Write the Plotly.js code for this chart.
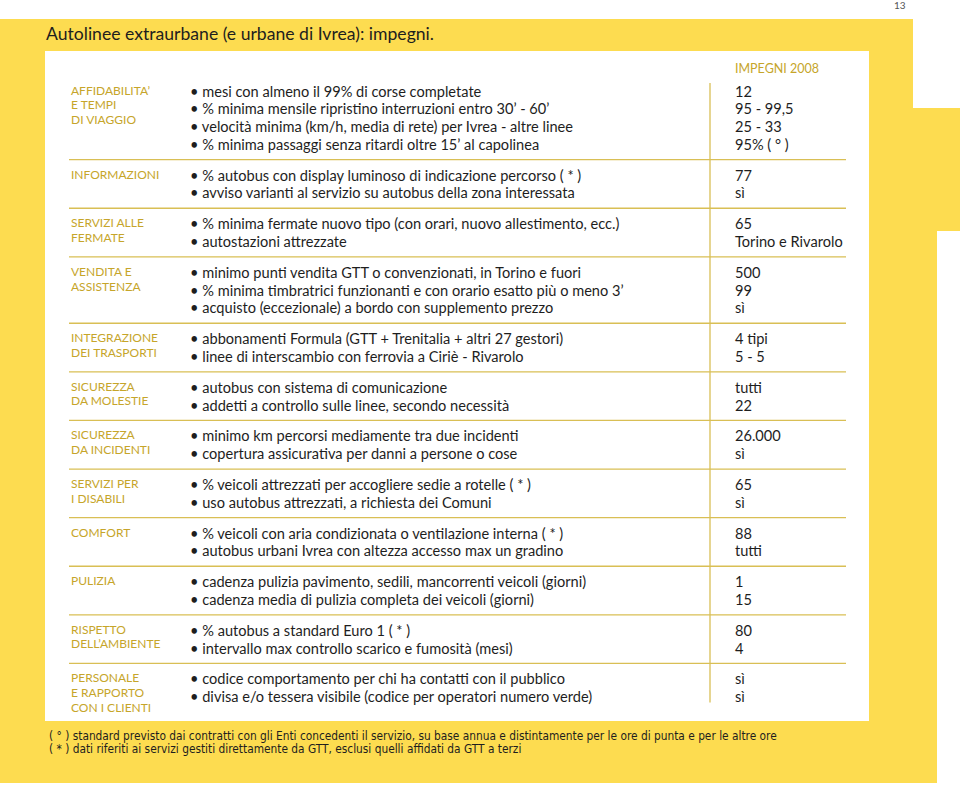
<!DOCTYPE html>
<html>
<head>
<meta charset="utf-8">
<script src="https://cdn.plot.ly/plotly-3.0.1.min.js"></script>
<style>html,body{margin:0;padding:0;background:#fff;}#chart{width:960px;height:787px;}</style>
</head>
<body>
<div id="chart"></div>
<script>
const pageTitle = "Autolinee extraurbane (e urbane di Ivrea): impegni.";
const columnHeader = "IMPEGNI 2008";
const pageNumber = "13";

const categories = [
  ["AFFIDABILITA’", "E TEMPI", "DI VIAGGIO"],
  ["INFORMAZIONI"],
  ["SERVIZI ALLE", "FERMATE"],
  ["VENDITA E", "ASSISTENZA"],
  ["INTEGRAZIONE", "DEI TRASPORTI"],
  ["SICUREZZA", "DA MOLESTIE"],
  ["SICUREZZA", "DA INCIDENTI"],
  ["SERVIZI PER", "I DISABILI"],
  ["COMFORT"],
  ["PULIZIA"],
  ["RISPETTO", "DELL’AMBIENTE"],
  ["PERSONALE", "E RAPPORTO", "CON I CLIENTI"]
];

const indicators = [
  ["mesi con almeno il 99% di corse completate",
   "% minima mensile ripristino interruzioni entro 30’ - 60’",
   "velocità minima (km/h, media di rete) per Ivrea - altre linee",
   "% minima passaggi senza ritardi oltre 15’ al capolinea"],
  ["% autobus con display luminoso di indicazione percorso ( * )",
   "avviso varianti al servizio su autobus della zona interessata"],
  ["% minima fermate nuovo tipo (con orari, nuovo allestimento, ecc.)",
   "autostazioni attrezzate"],
  ["minimo punti vendita GTT o convenzionati, in Torino e fuori",
   "% minima timbratrici funzionanti e con orario esatto più o meno 3’",
   "acquisto (eccezionale) a bordo con supplemento prezzo"],
  ["abbonamenti Formula (GTT + Trenitalia + altri 27 gestori)",
   "linee di interscambio con ferrovia a Ciriè - Rivarolo"],
  ["autobus con sistema di comunicazione",
   "addetti a controllo sulle linee, secondo necessità"],
  ["minimo km percorsi mediamente tra due incidenti",
   "copertura assicurativa per danni a persone o cose"],
  ["% veicoli attrezzati per accogliere sedie a rotelle ( * )",
   "uso autobus attrezzati, a richiesta dei Comuni"],
  ["% veicoli con aria condizionata o ventilazione interna ( * )",
   "autobus urbani Ivrea con altezza accesso max un gradino"],
  ["cadenza pulizia pavimento, sedili, mancorrenti veicoli (giorni)",
   "cadenza media di pulizia completa dei veicoli (giorni)"],
  ["% autobus a standard Euro 1 ( * )",
   "intervallo max controllo scarico e fumosità (mesi)"],
  ["codice comportamento per chi ha contatti con il pubblico",
   "divisa e/o tessera visibile (codice per operatori numero verde)"]
];

const targets = [
  ["12", "95 - 99,5", "25 - 33", "95% ( ° )"],
  ["77", "sì"],
  ["65", "Torino e Rivarolo"],
  ["500", "99", "sì"],
  ["4 tipi", "5 - 5"],
  ["tutti", "22"],
  ["26.000", "sì"],
  ["65", "sì"],
  ["88", "tutti"],
  ["1", "15"],
  ["80", "4"],
  ["sì", "sì"]
];

const footnotes = [
  "( ° ) standard previsto dai contratti con gli Enti concedenti il servizio, su base annua e distintamente per le ore di punta e per le altre ore",
  "( * ) dati riferiti ai servizi gestiti direttamente da GTT, esclusi quelli affidati da GTT a terzi"
];

// ---- layout constants ----
const YELLOW = "#FDDC50";
const GOLD = "#C6A52A";
const LINE = "#D9BF55";
const DARK = "#1e1e1e";
const FONT = "Lato, 'Open Sans', sans-serif";
const firstRowY = 91, pitch = 17.75, gap = 13.1, labelPitch = 14.7;
const xLabel = 69, xItem = 188, xValue = 733, xRuleL = 69, xRuleR = 846, xVert = 710;

const annotations = [];
const shapes = [];
function ann(x, y, text, size, color, family, extra) {
  annotations.push(Object.assign({
    xref: "x", yref: "y", x: x, y: y, text: text, showarrow: false,
    xanchor: "left", yanchor: "middle", align: "left",
    font: {size: size, color: color, family: family || FONT}
  }, extra || {}));
}

// background shapes
shapes.push({type: "path", xref: "x", yref: "y", layer: "below",
  path: "M0,19 L913,19 L913,108 L960,108 L960,231 L937,231 L937,783 L0,783 Z",
  fillcolor: YELLOW, line: {width: 0}});
shapes.push({type: "rect", xref: "x", yref: "y", layer: "below",
  x0: 45, x1: 869, y0: 51, y1: 721, fillcolor: "#ffffff", line: {width: 0}});

ann(44, 33, pageTitle, 17.6, DARK);
ann(xValue, 68, columnHeader, 12.5, GOLD);
ann(892, 5, pageNumber, 10, "#555555");

let y = firstRowY;
let firstY = y, lastY = y;
categories.forEach((cat, g) => {
  const startY = y;
  cat.forEach((line, i) => ann(xLabel, startY - 1 + i * labelPitch, line, 12, GOLD));
  indicators[g].forEach((txt, i) => {
    ann(xItem, startY + i * pitch, "• " + txt, 14.6, DARK);
    ann(xValue, startY + i * pitch, targets[g][i], 14.6, DARK);
  });
  const endY = startY + (indicators[g].length - 1) * pitch;
  lastY = endY;
  y = endY + pitch + gap;
  if (g < categories.length - 1) {
    const sepY = (endY + y) / 2;
    shapes.push({type: "line", xref: "x", yref: "y", x0: xRuleL, x1: xRuleR, y0: sepY, y1: sepY,
      line: {color: LINE, width: 1.3}});
  }
});
shapes.push({type: "line", xref: "x", yref: "y", x0: xVert, x1: xVert, y0: firstY - 8, y1: lastY + 6,
  line: {color: LINE, width: 1.3}});

footnotes.forEach((t, i) => ann(47, 736 + i * 13, t, 11.8, DARK, "'DejaVu Sans Condensed', 'Liberation Sans Narrow', sans-serif"));

const layout = {
  width: 960, height: 787,
  margin: {l: 0, r: 0, t: 0, b: 0, pad: 0},
  paper_bgcolor: "#ffffff", plot_bgcolor: "rgba(0,0,0,0)",
  showlegend: false,
  xaxis: {range: [0, 960], visible: false, fixedrange: true},
  yaxis: {range: [787, 0], visible: false, fixedrange: true},
  shapes: shapes,
  annotations: annotations
};

Plotly.newPlot("chart", [{x: [], y: [], type: "scatter", mode: "markers", hoverinfo: "skip"}], layout,
  {staticPlot: true, displayModeBar: false});
</script>
</body>
</html>
